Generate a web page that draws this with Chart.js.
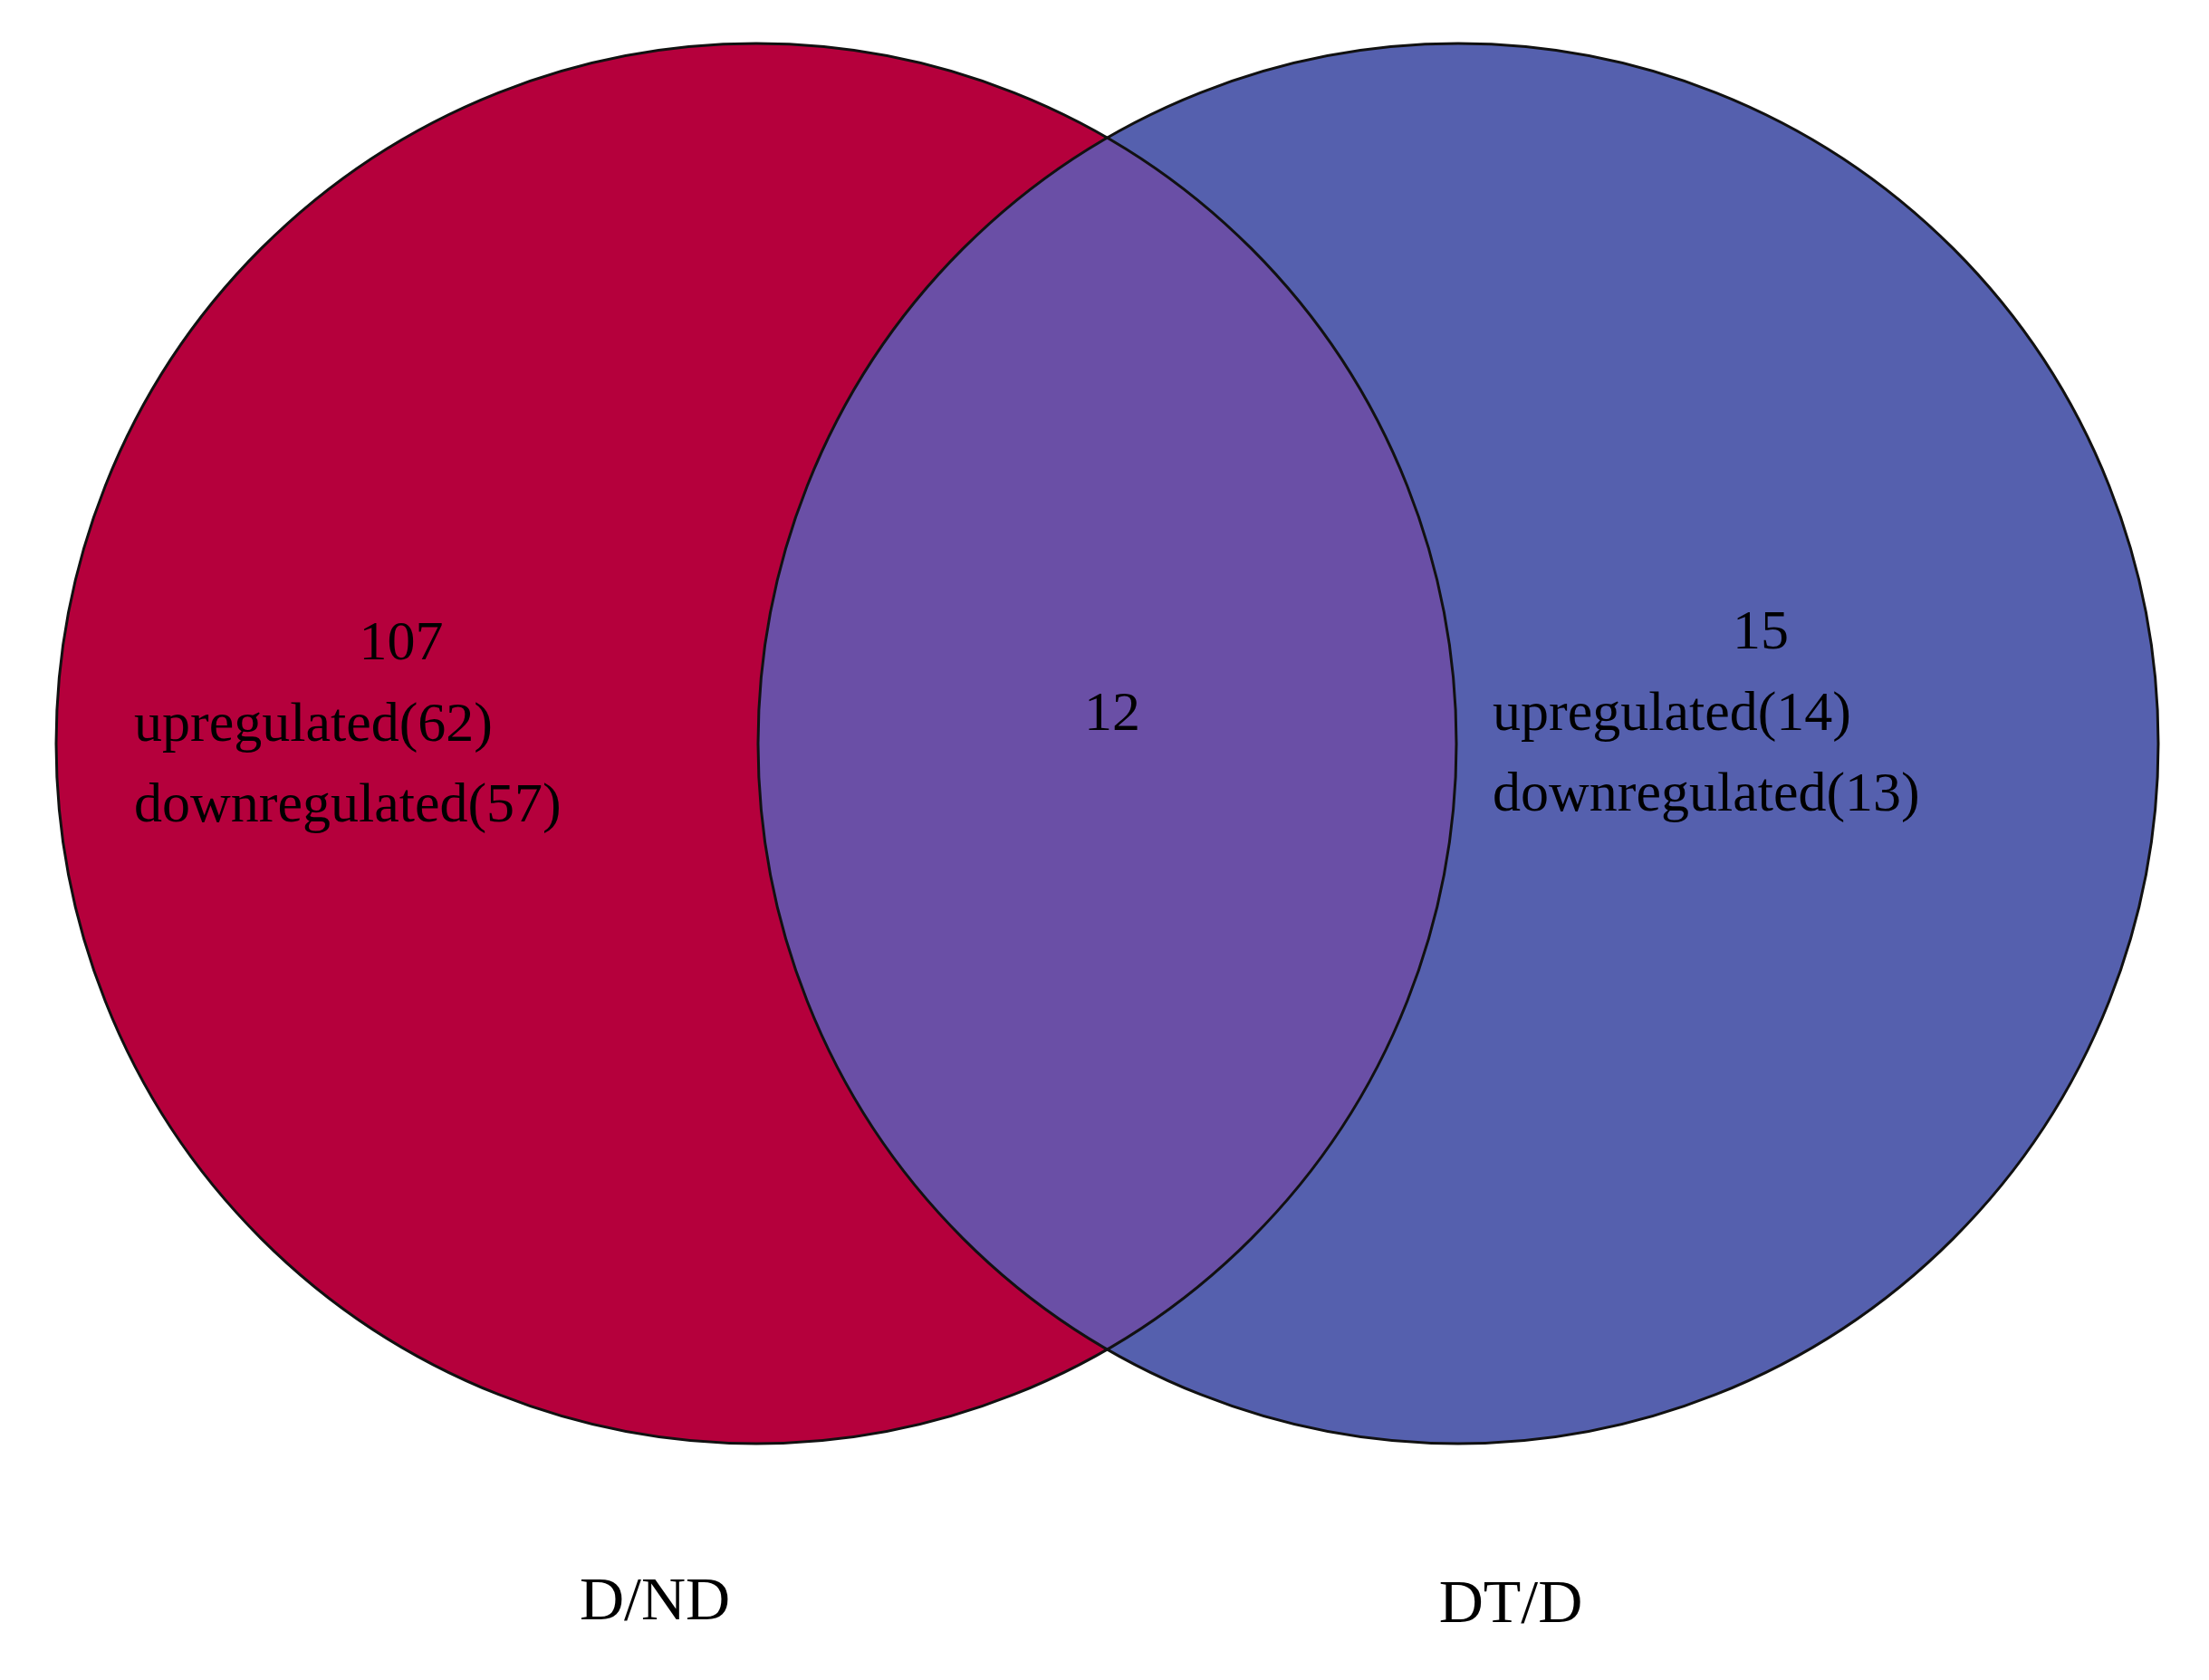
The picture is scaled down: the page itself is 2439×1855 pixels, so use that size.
<!DOCTYPE html>
<html><head><meta charset="utf-8">
<script src="https://cdn.jsdelivr.net/npm/chart.js@4"></script>
<style>html,body{margin:0;padding:0;background:#fff}#wrap{width:2439px;height:1855px}</style>
</head><body><div id="wrap"><canvas id="c"></canvas></div>
<script>
const setNames = ["D/ND", "DT/D"];
const setCentersX = [835, 1610];
const setCentersY = [821, 821];
const setRadius = [773, 773];
const setColors = ["#B5003C", "#5560AE"];
const overlapColor = "#6A4FA6";
const regionTexts = [
  {x: 443, y: 712, lines: ["107"], align: "center"},
  {x: 148, y: 802, lines: ["upregulated(62)"], align: "left"},
  {x: 148, y: 891, lines: ["downregulated(57)"], align: "left"},
  {x: 1228, y: 790, lines: ["12"], align: "center"},
  {x: 1944, y: 700, lines: ["15"], align: "center"},
  {x: 1648, y: 790, lines: ["upregulated(14)"], align: "left"},
  {x: 1648, y: 879, lines: ["downregulated(13)"], align: "left"}
];
const labelX = [723, 1668];
const labelY = [1770, 1773];

const vennPlugin = {
  id: 'venn',
  beforeDatasetsDraw(chart) {
    const {ctx, scales: {x, y}} = chart;
    const px = v => x.getPixelForValue(v), py = v => y.getPixelForValue(v);
    const rad = r => Math.abs(x.getPixelForValue(r) - x.getPixelForValue(0));
    const circ = i => { ctx.beginPath(); ctx.arc(px(setCentersX[i]), py(setCentersY[i]), rad(setRadius[i]), 0, Math.PI*2); };
    ctx.save();
    for (let i = 0; i < 2; i++) { circ(i); ctx.fillStyle = setColors[i]; ctx.fill(); }
    ctx.save(); circ(0); ctx.clip(); circ(1); ctx.fillStyle = overlapColor; ctx.fill(); ctx.restore();
    ctx.lineWidth = 3; ctx.strokeStyle = "#111";
    for (let i = 0; i < 2; i++) { circ(i); ctx.stroke(); }
    ctx.fillStyle = "#000"; ctx.font = "62px 'Liberation Serif', serif"; ctx.textBaseline = "middle";
    regionTexts.forEach(t => { ctx.textAlign = t.align; t.lines.forEach((l, k) => ctx.fillText(l, px(t.x), py(t.y) + k*88)); });
    ctx.textAlign = "center"; ctx.font = "68px 'Liberation Serif', serif";
    setNames.forEach((n, i) => ctx.fillText(n, px(labelX[i]), py(labelY[i])));
    ctx.restore();
  }
};

new Chart(document.getElementById('c'), {
  type: 'scatter',
  data: { datasets: [{ data: setCentersX.map((v, i) => ({x: v, y: setCentersY[i]})), pointRadius: 0 }] },
  options: {
    responsive: true, maintainAspectRatio: false, animation: false,
    layout: { padding: 0 },
    plugins: { legend: {display: false}, tooltip: {enabled: false} },
    scales: {
      x: { type: 'linear', min: 0, max: 2439, display: false },
      y: { type: 'linear', min: 0, max: 1855, reverse: true, display: false }
    }
  },
  plugins: [vennPlugin]
});
</script></body></html>
